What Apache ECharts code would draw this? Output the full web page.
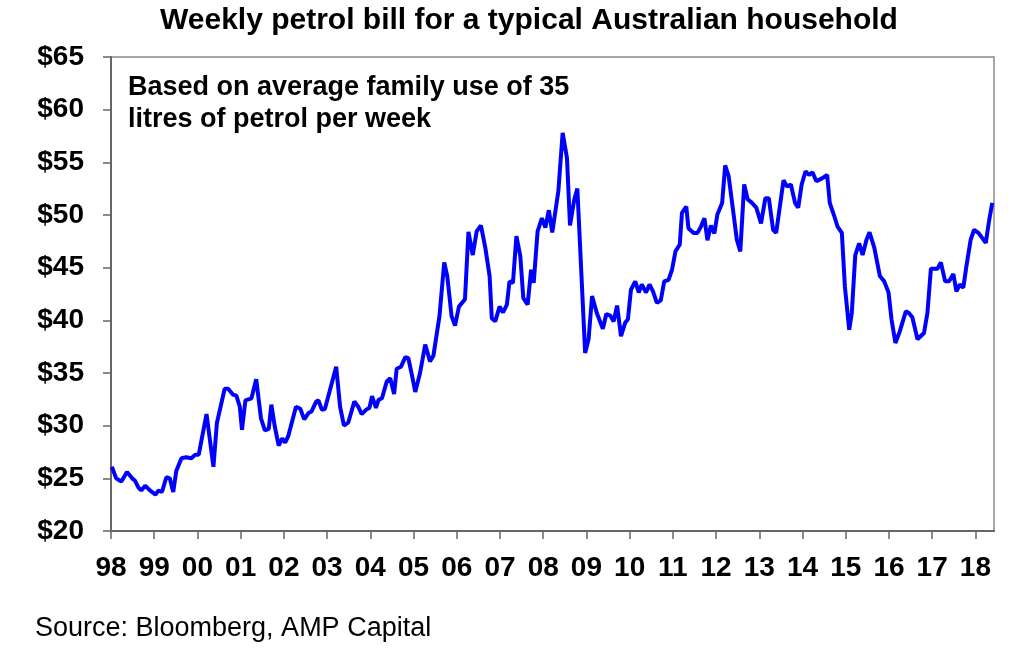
<!DOCTYPE html>
<html>
<head>
<meta charset="utf-8">
<script src="https://cdn.jsdelivr.net/npm/echarts@6/dist/echarts.min.js"></script>
<style>
html,body{margin:0;padding:0;background:#fff;}
#chart{width:1024px;height:667px;}
</style>
</head>
<body>
<div id="chart"></div>
<script>
// Decimal-year dates of each vertex of the line
var dates = [
1998.02,1998.12,1998.24,1998.37,1998.49,1998.55,1998.64,1998.70,1998.79,1998.90,
1999.03,1999.10,1999.18,1999.28,1999.36,1999.44,1999.51,1999.63,1999.74,1999.86,1999.95,
2000.03,2000.21,2000.37,2000.45,2000.63,2000.71,2000.82,2000.90,2000.98,
2001.03,2001.11,2001.25,2001.36,2001.47,2001.56,2001.65,2001.71,2001.79,2001.88,2001.96,
2002.03,2002.10,2002.28,2002.38,2002.47,2002.57,2002.64,2002.75,2002.80,2002.88,2002.95,
2003.21,2003.30,2003.39,2003.49,2003.63,2003.72,2003.80,2003.90,2003.98,
2004.04,2004.13,2004.19,2004.27,2004.38,2004.46,2004.55,2004.61,2004.71,2004.81,2004.88,2004.96,
2005.04,2005.15,2005.27,2005.38,2005.46,2005.60,2005.71,2005.78,2005.88,2005.96,
2006.05,2006.19,2006.27,2006.37,2006.46,2006.56,2006.66,2006.76,2006.81,2006.89,2006.99,
2007.07,2007.16,2007.22,2007.30,2007.38,2007.47,2007.54,2007.64,2007.72,2007.78,2007.87,2007.97,
2008.05,2008.13,2008.21,2008.35,2008.45,2008.55,2008.62,2008.72,2008.79,2008.97,
2009.05,2009.13,2009.24,2009.38,2009.46,2009.55,2009.63,2009.71,2009.80,2009.90,2009.96,
2010.03,2010.13,2010.21,2010.28,2010.38,2010.46,2010.54,2010.63,2010.72,2010.80,2010.90,2010.98,
2011.06,2011.16,2011.21,2011.31,2011.36,2011.48,2011.57,2011.65,2011.73,2011.80,2011.88,2011.96,
2012.03,2012.14,2012.21,2012.29,2012.41,2012.48,2012.56,2012.65,2012.73,2012.83,2012.93,
2013.04,2013.14,2013.22,2013.32,2013.39,2013.56,2013.64,2013.73,2013.83,2013.90,2013.98,
2014.07,2014.15,2014.23,2014.32,2014.46,2014.57,2014.63,2014.73,2014.81,2014.91,2014.98,
2015.08,2015.14,2015.22,2015.31,2015.39,2015.48,2015.55,2015.66,2015.79,2015.89,2015.99,
2016.06,2016.15,2016.25,2016.39,2016.46,2016.54,2016.66,2016.81,2016.89,2016.97,
2017.12,2017.20,2017.30,2017.39,2017.49,2017.56,2017.64,2017.72,2017.79,2017.89,2017.97,
2018.07,2018.16,2018.24,2018.32,2018.39
];
// Weekly petrol bill ($)
var bills = [
26.1,25.0,24.7,25.6,25.0,24.8,24.1,23.85,24.3,23.85,
23.45,23.85,23.7,25.1,25.0,23.7,25.7,26.9,27.0,26.9,27.25,
27.25,31.1,26.1,30.25,33.5,33.5,32.95,32.85,31.8,
29.6,32.4,32.6,34.4,30.7,29.55,29.7,32.0,29.9,28.1,28.8,
28.4,29.0,31.8,31.6,30.6,31.2,31.35,32.3,32.4,31.5,31.6,
35.6,31.8,30.0,30.3,32.3,31.8,31.1,31.5,31.7,
32.8,31.7,32.45,32.6,34.2,34.5,33.0,35.4,35.6,36.5,36.4,34.85,
33.2,35.0,37.7,36.1,36.65,40.4,45.5,44.2,40.4,39.5,
41.3,42.0,48.4,46.2,48.45,49.0,46.9,44.2,40.2,39.9,41.3,
40.75,41.5,43.7,43.55,48.0,46.1,42.1,41.5,44.8,43.55,48.45,49.7,
48.8,50.45,48.35,52.25,57.8,55.4,49.0,51.5,52.5,36.9,
38.2,42.3,40.7,39.2,40.6,40.45,39.9,41.4,38.5,39.8,40.1,
42.9,43.7,42.65,43.4,42.65,43.4,42.75,41.65,41.9,43.7,43.85,44.8,
46.55,47.2,50.2,50.8,48.75,48.3,48.3,48.9,49.7,47.6,49.0,48.25,
50.05,51.15,54.7,53.7,49.9,47.65,46.55,52.9,51.5,51.15,50.7,
49.2,51.6,51.6,48.6,48.3,53.3,52.7,52.9,51.1,50.7,52.9,
54.15,53.8,54.05,53.2,53.5,53.8,51.15,49.95,48.9,48.3,43.2,
39.1,40.7,46.2,47.3,46.2,47.65,48.35,46.9,44.2,43.7,42.65,
40.05,37.85,38.95,40.85,40.7,40.3,38.2,38.8,40.7,44.9,
44.9,45.5,43.7,43.7,44.4,42.75,43.4,43.1,45.1,47.65,48.6,
48.3,47.8,47.35,49.55,51.15
];
var yearTicks = [1998,1999,2000,2001,2002,2003,2004,2005,2006,2007,2008,2009,2010,2011,2012,2013,2014,2015,2016,2017,2018];

var titleText = 'Weekly petrol bill for a typical Australian household';
var noteLines = ['Based on average family use of 35', 'litres of petrol per week'];
var sourceText = 'Source: Bloomberg, AMP Capital';

var FONT = '"Liberation Sans", Arial, Helvetica, sans-serif';
var seriesData = dates.map(function (d, i) { return [d, bills[i]]; });

var chart = echarts.init(document.getElementById('chart'), null, {renderer: 'canvas'});
chart.setOption({
  animation: false,
  backgroundColor: '#fff',
  grid: {left: 111, right: 30, top: 57, bottom: 136, show: true, borderColor: '#8a8a8a', borderWidth: 1.5},
  xAxis: {
    type: 'value', min: 1998, max: 2018.43,
    axisLine: {show: true, lineStyle: {color: '#666', width: 2}},
    axisTick: {show: true, length: 8, customValues: yearTicks, lineStyle: {color: '#666', width: 1.5}},
    axisLabel: {customValues: yearTicks, margin: 23, color: '#000', fontSize: 28, fontWeight: 'bold', fontFamily: FONT,
      formatter: function (v) { var s = String(Math.round(v) % 100); return s.length < 2 ? '0' + s : s; }},
    splitLine: {show: false}
  },
  yAxis: {
    type: 'value', min: 20, max: 65, interval: 5,
    axisLine: {show: true, lineStyle: {color: '#666', width: 2}},
    axisTick: {show: true, length: 8, lineStyle: {color: '#666', width: 1.5}},
    axisLabel: {margin: 27, color: '#000', fontSize: 28, fontWeight: 'bold', fontFamily: FONT,
      formatter: function (v) { return '$' + v; }},
    splitLine: {show: false}
  },
  graphic: [
    {type: 'text', left: 160, top: 6, style: {text: titleText, fill: '#000', font: 'bold 30px ' + FONT}},
    {type: 'text', left: 128, top: 72, style: {text: noteLines.join('\n'), fill: '#000', font: 'bold 27px ' + FONT, lineHeight: 32}},
    {type: 'text', left: 35, top: 615, style: {text: sourceText, fill: '#000', font: '27px ' + FONT}}
  ],
  series: [{
    type: 'line', data: seriesData, showSymbol: false, symbol: 'none',
    lineStyle: {color: '#0000ff', width: 4}, z: 3
  }]
});
</script>
</body>
</html>
